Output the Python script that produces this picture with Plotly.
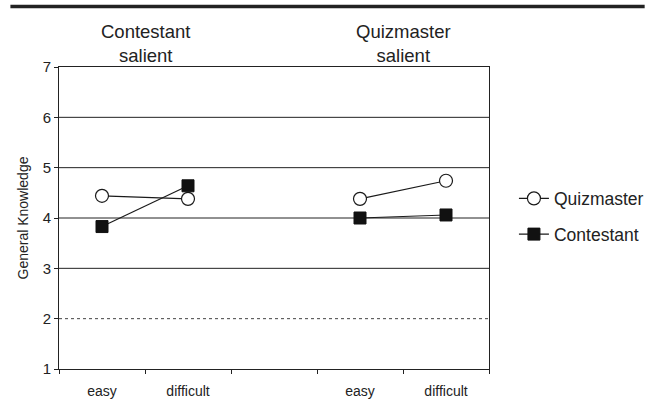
import plotly.graph_objects as go

# x slots: two conditions, with an empty slot in between
slot_labels = ['easy', 'difficult', '', 'easy', 'difficult']
panel_titles = ['Contestant<br>salient', 'Quizmaster<br>salient']

# mean General Knowledge ratings (None = gap between panels)
quizmaster = [4.44, 4.38, None, 4.38, 4.74]
contestant = [3.83, 4.64, None, 4.00, 4.06]

solid_grid = [3, 4, 5, 6]
dotted_grid = [2]

x_pos = [i + 0.5 for i in range(len(slot_labels))]

fig = go.Figure()
fig.add_trace(go.Scatter(x=x_pos, y=quizmaster, mode='lines+markers', name='Quizmaster',
                         legendgroup='q', connectgaps=False,
                         line=dict(color='#1a1a1a', width=1.2),
                         marker=dict(symbol='circle', size=13, color='white',
                                     line=dict(color='#1a1a1a', width=1.2))))
fig.add_trace(go.Scatter(x=x_pos, y=contestant, mode='lines+markers', name='Contestant',
                         legendgroup='c', connectgaps=False,
                         line=dict(color='#1a1a1a', width=1.2),
                         marker=dict(symbol='square', size=12, color='#111111',
                                     line=dict(color='#111111', width=1))))

# gridlines
for g in solid_grid:
    fig.add_hline(y=g, line=dict(color='#222222', width=1), layer='below')
for g in dotted_grid:
    fig.add_hline(y=g, line=dict(color='#444444', width=1, dash='dot'), layer='below')

# panel titles
for xc, t in zip([1, 4], panel_titles):
    fig.add_annotation(x=xc, y=1, xref='x', yref='paper', text=t, showarrow=False,
                       yanchor='bottom', yshift=-1,
                       font=dict(size=18.5, color='#222222', family='Liberation Sans, Arial'))

# rule across the top of the figure
fig.add_shape(type='line', xref='paper', yref='paper', x0=-0.113, x1=1.362, y0=1.2, y1=1.2,
              line=dict(color='#222222', width=3.5))

fig.update_layout(
    width=661, height=405,
    margin=dict(l=59, r=168, t=67, b=36),
    paper_bgcolor='white', plot_bgcolor='white',
    font=dict(family='Liberation Sans, Arial', color='#222222'),
    showlegend=True,
    legend=dict(x=1.058, y=0.505, xanchor='left', yanchor='middle',
                font=dict(size=17.5, color='#222222'),
                traceorder='grouped', tracegroupgap=10,
                bgcolor='rgba(0,0,0,0)'),
    xaxis=dict(range=[0, 5], tickmode='array', tickvals=x_pos, ticktext=slot_labels,
               showgrid=False, zeroline=False, showline=True, mirror=True,
               linecolor='#222222', linewidth=1, automargin=False,
               ticks='outside', ticklen=9, tickcolor='rgba(0,0,0,0)',
               tickfont=dict(size=14),
               minor=dict(tickvals=list(range(6)), ticks='outside', ticklen=4,
                          tickcolor='#222222', showgrid=False)),
    yaxis=dict(range=[1, 7], dtick=1, showgrid=False, zeroline=False, showline=True,
               mirror=True, linecolor='#222222', linewidth=1, automargin=False,
               ticks='outside', ticklen=4, tickcolor='#222222',
               tickfont=dict(size=15),
               title=dict(text='General Knowledge', font=dict(size=14), standoff=10)),
)

# drop the page's default body margin so the figure sits at the window's corner
fig.write_html("out.html", config={'displayModeBar': False},
               post_script="document.body.style.margin='0px';")
